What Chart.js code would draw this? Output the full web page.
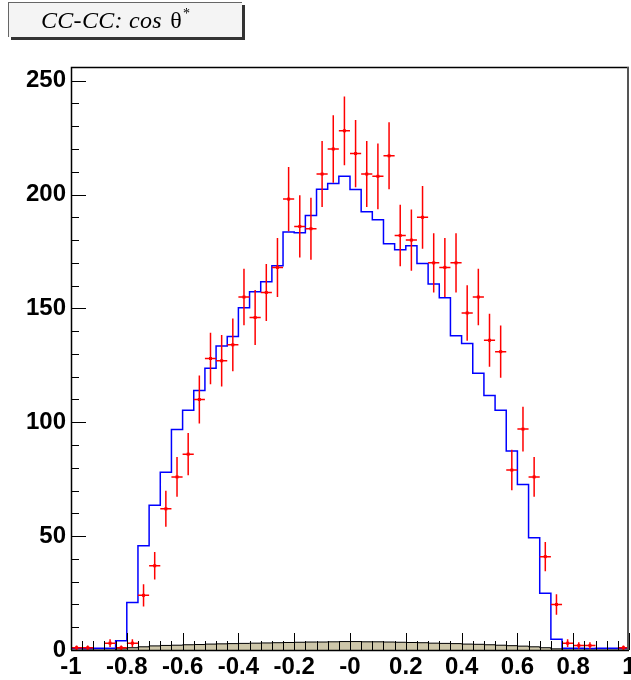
<!DOCTYPE html>
<html>
<head>
<meta charset="utf-8">
<script src="https://cdn.jsdelivr.net/npm/chart.js@4.4.0/dist/chart.umd.min.js"></script>
<style>
    html, body { margin: 0; padding: 0; background: #fff; }
    #wrap { position: relative; width: 631px; height: 680px; }
    #titleBox {
        position: absolute; left: 8px; top: 2px; width: 231px; height: 33px;
        background: #f4f4f4; border-left: 1px solid #666; border-top: 1px solid #666;
        box-shadow: 3px 3px 0 #333;
        font-family: 'Liberation Serif', 'Times New Roman', serif; font-style: italic;
        font-size: 24px; line-height: 34px; text-align: left; color: #000;
        padding-left: 32px; box-sizing: border-box; width: 234px; height: 35px;
        letter-spacing: 0.3px;
    }
    #titleBox span { font-style: normal; margin-left: 2px; }
    #titleBox sup { font-size: 14px; font-style: normal; vertical-align: 10px; line-height: 0; margin-left: 1px; }
</style>
</head>
<body>
<div id="wrap">
    <canvas id="cosChart" width="631" height="680"></canvas>
    <div id="titleBox">CC-CC: cos <span>θ</span><sup>*</sup></div>
</div>
<script>
// Binning: 50 bins entre -1 y 1
const nBins = 50;
const xMin = -1;
const xMax = 1;
const yMax = 256;

// Datos (cuentas por bin), null = bin vacío
const dataCounts = [
    1, 1, null, 3, 1, 3, 24, 37, 62, 76,
    86, 110, 128, 127, 134, 155, 146, 157, 168, 198,
    186, 185, 209, 220, 228, 218, 209, 208, 217, 182,
    180, 190, 170, 168, 170, 148, 155, 136, 131, 79,
    97, 76, 41, 20, 3, 2, 2, null, null, 1
];

// Simulación (histograma azul)
const mcCounts = [
    0.8, 0.8, 0.7, 0.8, 0.8, 4.1, 20.9, 45.8, 63.6, 78.1,
    96.8, 105.3, 114.0, 123.7, 133.5, 137.7, 150.3, 157.3, 161.7, 168.7,
    183.6, 183.2, 190.8, 202.3, 204.8, 208.0, 202.2, 192.4, 188.9, 178.4,
    175.7, 177.5, 169.7, 160.7, 154.7, 138.0, 134.6, 121.5, 111.7, 105.3,
    87.4, 72.7, 49.3, 24.9, 4.7, 0.8, 0.8, 0.7, 0.8, 0.8
];

// Fondo (histograma relleno)
const bkgCounts = [
    0, 0, 0, 0, 0, 0.5, 1.0, 1.4, 1.8, 2.0,
    2.1, 2.3, 2.4, 2.6, 2.7, 2.8, 2.9, 3.0, 3.1, 3.2,
    3.3, 3.4, 3.5, 3.5, 3.6, 3.7, 3.7, 3.6, 3.6, 3.5,
    3.4, 3.3, 3.2, 3.0, 2.9, 2.8, 2.6, 2.5, 2.3, 2.1,
    1.9, 1.7, 1.4, 1.0, 0.5, 0, 0, 0, 0, 0
];

// Etiquetas de los ejes
const xTicks = [-1, -0.8, -0.6, -0.4, -0.2, 0, 0.2, 0.4, 0.6, 0.8, 1];
const yTicks = [0, 50, 100, 150, 200, 250];

const binWidth = (xMax - xMin) / nBins;

// Escalones: un punto por borde izquierdo + cierre en xMax
function stepPoints(counts) {
    const pts = counts.map((v, i) => ({ x: xMin + i * binWidth, y: v }));
    pts.push({ x: xMax, y: counts[counts.length - 1] });
    return pts;
}

const dataPoints = [];
dataCounts.forEach((v, i) => {
    if (v !== null) {
        dataPoints.push({ x: xMin + (i + 0.5) * binWidth, y: v, err: Math.sqrt(v) });
    }
});

// Barras de error (horizontal = ancho del bin, vertical = sqrt(N))
const errorBars = {
    id: 'errorBars',
    afterDatasetsDraw(chart) {
        const { ctx, scales: { x, y } } = chart;
        ctx.save();
        ctx.strokeStyle = '#ff0000';
        ctx.fillStyle = '#ff0000';
        ctx.lineWidth = 1.5;
        dataPoints.forEach(p => {
            const px = x.getPixelForValue(p.x);
            const py = y.getPixelForValue(p.y);
            ctx.beginPath();
            ctx.moveTo(px, y.getPixelForValue(p.y - p.err));
            ctx.lineTo(px, y.getPixelForValue(Math.min(p.y + p.err, yMax)));
            ctx.moveTo(x.getPixelForValue(p.x - binWidth / 2), py);
            ctx.lineTo(x.getPixelForValue(p.x + binWidth / 2), py);
            ctx.stroke();
            ctx.fillRect(px - 1.5, py - 1.5, 3, 3);
        });
        ctx.restore();
    }
};

// Marco y ticks hacia dentro, estilo ROOT
const frameTicks = {
    id: 'frameTicks',
    afterDraw(chart) {
        const { ctx, chartArea: a, scales: { x, y } } = chart;
        ctx.save();
        ctx.strokeStyle = '#000';
        ctx.lineWidth = 1;
        ctx.beginPath();
        for (let v = 0; v <= 250; v += 10) {
            const py = Math.round(y.getPixelForValue(v)) + 0.5;
            const len = v % 50 === 0 ? 15 : 8;
            ctx.moveTo(a.left, py);
            ctx.lineTo(a.left + len, py);
        }
        for (let i = 0; i <= nBins; i++) {
            const px = Math.round(x.getPixelForValue(xMin + i * binWidth)) + 0.5;
            const len = i % 5 === 0 ? 17 : 9;
            ctx.moveTo(px, a.bottom);
            ctx.lineTo(px, a.bottom - len);
        }
        ctx.stroke();
        ctx.lineWidth = 1.5;
        ctx.beginPath();
        ctx.moveTo(a.left + 0.5, a.bottom);
        ctx.lineTo(a.left + 0.5, a.top + 0.5);
        ctx.lineTo(a.right, a.top + 0.5);
        ctx.moveTo(a.left, a.bottom + 0.5);
        ctx.lineTo(a.right, a.bottom + 0.5);
        ctx.stroke();
        ctx.strokeStyle = '#555';
        ctx.lineWidth = 2;
        ctx.beginPath();
        ctx.moveTo(a.right - 1, a.top);
        ctx.lineTo(a.right - 1, a.bottom);
        ctx.stroke();
        ctx.restore();
    }
};

const ctx = document.getElementById('cosChart').getContext('2d');
const cosChart = new Chart(ctx, {
    type: 'scatter',
    data: {
        datasets: [
            {
                label: 'Fondo',
                type: 'line',
                data: stepPoints(bkgCounts),
                stepped: 'after',
                borderColor: '#000',
                borderWidth: 1,
                backgroundColor: 'rgb(206, 199, 170)',
                fill: 'origin',
                pointRadius: 0
            },
            {
                label: 'MC',
                type: 'line',
                data: stepPoints(mcCounts),
                stepped: 'after',
                borderColor: '#0000ff',
                borderWidth: 1.5,
                fill: false,
                pointRadius: 0
            },
            {
                label: 'Datos',
                data: dataPoints,
                pointRadius: 0,
                pointHoverRadius: 0
            }
        ]
    },
    options: {
        responsive: false,
        animation: false,
        events: [],
        layout: { padding: { top: 67, right: 2, left: 0, bottom: 0 } },
        plugins: {
            legend: { display: false },
            tooltip: { enabled: false }
        },
        scales: {
            x: {
                type: 'linear',
                min: xMin,
                max: xMax,
                grid: { display: false, drawTicks: false },
                border: { display: false },
                afterBuildTicks: s => { s.ticks = xTicks.map(v => ({ value: v })); },
                afterFit: s => { s.height = 30; s.paddingLeft = 0; s.paddingRight = 0; },
                ticks: {
                    autoSkip: false,
                    maxRotation: 0,
                    padding: 3,
                    color: '#000',
                    font: { family: 'Liberation Sans, Arial, sans-serif', size: 24, weight: 'bold' },
                    callback: v => (v === 0 ? '-0' : String(v))
                }
            },
            y: {
                min: 0,
                max: yMax,
                grid: { display: false, drawTicks: false },
                border: { display: false },
                afterBuildTicks: s => { s.ticks = yTicks.map(v => ({ value: v })); },
                afterFit: s => { s.width = 71; s.paddingTop = 0; s.paddingBottom = 0; },
                ticks: {
                    padding: 5,
                    color: '#000',
                    font: { family: 'Liberation Sans, Arial, sans-serif', size: 24, weight: 'bold' }
                }
            }
        }
    },
    plugins: [errorBars, frameTicks]
});
</script>
</body>
</html>
